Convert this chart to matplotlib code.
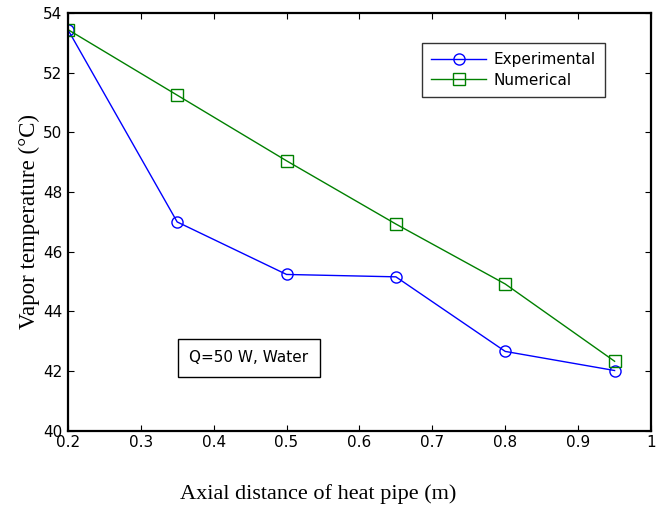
import matplotlib.pyplot as plt

# Posicao axial (m) e temperatura do vapor (°C)
posicao = [0.2, 0.35, 0.5, 0.65, 0.8, 0.95]
temp_experimental = [53.45, 47.0, 45.24, 45.16, 42.66, 42.02]
temp_numerica = [53.45, 51.25, 49.05, 46.93, 44.92, 42.33]

xticks = [0.2, 0.3, 0.4, 0.5, 0.6, 0.7, 0.8, 0.9, 1.0]
xtick_labels = ['0.2', '0.3', '0.4', '0.5', '0.6', '0.7', '0.8', '0.9', '1']
yticks = [40, 42, 44, 46, 48, 50, 52, 54]

plt.rcParams['font.family'] = ['DejaVu Sans']

fig = plt.figure(figsize=(6.65, 5.05), dpi=100)
ax = fig.add_axes([0.102, 0.147, 0.877, 0.827])

ax.plot(posicao, temp_experimental, color='#0000ff', lw=1.0, marker='o',
        ms=8, mfc='none', mec='#0000ff', mew=1.0, label='Experimental')
ax.plot(posicao, temp_numerica, color='#008000', lw=1.0, marker='s',
        ms=8, mfc='none', mec='#008000', mew=1.0, label='Numerical')

ax.set_xlim(0.2, 1.0)
ax.set_ylim(40, 54)
ax.set_xticks(xticks)
ax.set_xticklabels(xtick_labels)
ax.set_yticks(yticks)
ax.tick_params(direction='in', length=4, width=0.8, top=True, right=True,
               labelsize=11)
ax.tick_params(axis='y', pad=4)
ax.tick_params(axis='x', pad=3)
for s in ax.spines.values():
    s.set_linewidth(1.6)

ax.set_xlabel('Axial distance of heat pipe (m)', family='Liberation Serif',
              fontsize=16, va='center')
ax.xaxis.set_label_coords(0.429, -0.151)
ax.set_ylabel('Vapor temperature (°C)', family='Liberation Serif',
              fontsize=16.5, labelpad=2)

leg = ax.legend(loc='upper right', bbox_to_anchor=(0.921, 0.928),
                borderaxespad=0, fontsize=11,
                frameon=True, fancybox=False, edgecolor='black',
                handlelength=3.6, borderpad=0.6, labelspacing=0.35,
                handletextpad=0.5)
leg.get_frame().set_linewidth(1.0)

ax.text(0.31, 0.175, 'Q=50 W, Water', transform=ax.transAxes, fontsize=11,
        ha='center', va='center',
        bbox=dict(boxstyle='square,pad=0.75', fc='white', ec='black', lw=1.0))

fig.savefig('out.png', dpi=100)
